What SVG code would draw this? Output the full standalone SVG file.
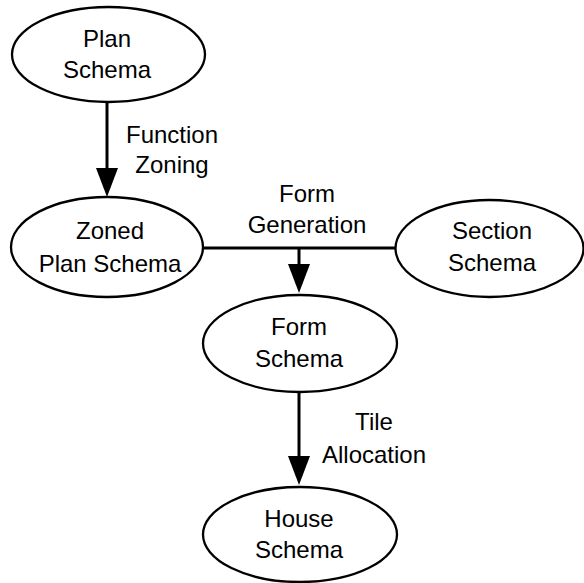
<svg xmlns="http://www.w3.org/2000/svg" width="584" height="583" viewBox="0 0 584 583">
<style>
.node ellipse{fill:#fff;stroke:#000;stroke-width:2.3}
text{font-family:"Liberation Sans",Arial,sans-serif;font-size:24px;fill:#000;text-anchor:middle}
.edge{stroke:#000;stroke-width:3;fill:none}
</style>
<defs>
<marker id="ah" markerUnits="userSpaceOnUse" markerWidth="30" markerHeight="22" refX="1" refY="11" orient="auto">
<path d="M0,0 L29,11 L0,22 z" fill="#000"/>
</marker>
</defs>
<g id="connectors">
<line class="edge" x1="107" y1="102" x2="107" y2="169" marker-end="url(#ah)"/>
<line class="edge" x1="203" y1="248" x2="395" y2="248"/>
<line class="edge" x1="299" y1="248" x2="299" y2="265" marker-end="url(#ah)"/>
<line class="edge" x1="299" y1="392" x2="299" y2="457" marker-end="url(#ah)"/>
<text x="172" y="143">Function</text>
<text x="172" y="173">Zoning</text>
<text x="307" y="202">Form</text>
<text x="307" y="233">Generation</text>
<text x="374" y="430">Tile</text>
<text x="374" y="463">Allocation</text>
</g>
<g id="plan" class="node">
<ellipse cx="108.5" cy="54.5" rx="96.5" ry="47.5"/>
<text x="107" y="47">Plan</text>
<text x="107" y="78">Schema</text>
</g>
<g id="zoned" class="node">
<ellipse cx="107" cy="247" rx="96" ry="50"/>
<text x="110" y="239">Zoned</text>
<text x="110" y="272">Plan Schema</text>
</g>
<g id="section" class="node">
<ellipse cx="489.5" cy="248.5" rx="94" ry="48.5"/>
<text x="492" y="239">Section</text>
<text x="492" y="271">Schema</text>
</g>
<g id="form" class="node">
<ellipse cx="300" cy="343.5" rx="97" ry="48.5"/>
<text x="299" y="335">Form</text>
<text x="299" y="367">Schema</text>
</g>
<g id="house" class="node">
<ellipse cx="300" cy="534.5" rx="97" ry="47.5"/>
<text x="299" y="527">House</text>
<text x="299" y="558">Schema</text>
</g>
</svg>
